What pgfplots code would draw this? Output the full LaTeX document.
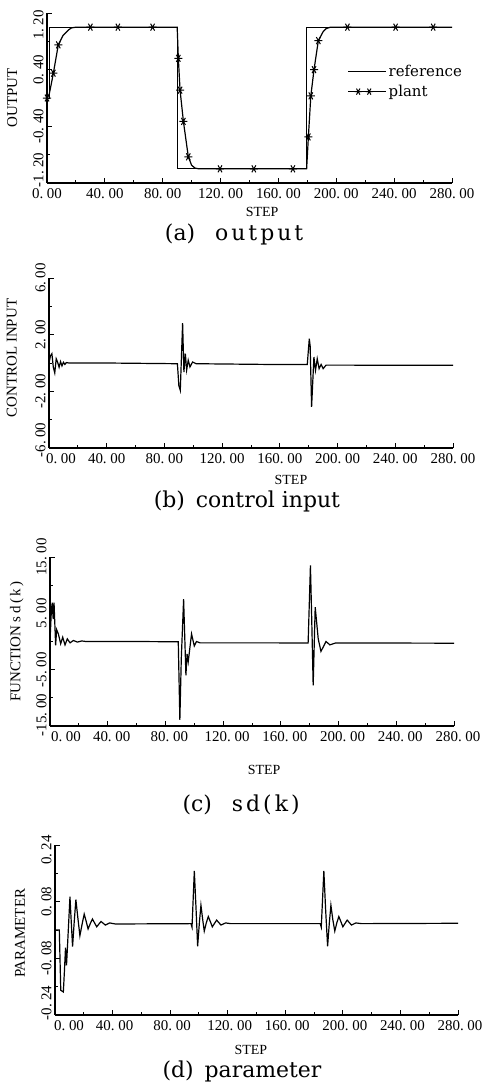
\documentclass[border=0pt]{standalone}
\usepackage{fontspec}
\setmainfont{Liberation Serif}
\newfontfamily\capfont{DejaVu Serif}
\usepackage{pgfplots}
\pgfplotsset{compat=1.18}

\pgfplotsset{
  panel/.style={
    scale only axis, width=404bp, height=170bp,
    xmin=0, xmax=280,
    axis x line*=bottom, axis y line*=left,
    axis line style={line width=1.2pt,-},
    tick align=inside, major tick length=5bp, minor tick length=3bp,
    every tick/.style={black, line width=1pt},
    xtick={0,40,...,280}, minor xtick={20,60,...,260},
    xticklabels={{\hspace*{24bp}0.\ 00},40.\ 00,80.\ 00,120.\ 00,160.\ 00,200.\ 00,240.\ 00,280.\ 00},
    tick label style={font=\fontsize{15}{15}\selectfont},
    xticklabel style={yshift=-2bp},
    yticklabel style={rotate=90, anchor=south},
    label style={font=\fontsize{15}{15}\selectfont},
    xlabel style={font=\fontsize{14}{14}\selectfont},
    xlabel={STEP},
    title style={font=\capfont\fontsize{22}{22}\selectfont, anchor=center},
    clip=false,
  },
  dataline/.style={black, line width=1.2pt, mark=none},
}

\begin{document}
\begin{tikzpicture}
\path[use as bounding box] (0bp,0bp) rectangle (483bp,-1089bp);

% (a) output
\begin{axis}[panel, at={(47bp,-183bp)}, anchor=south west, width=405bp,
  xticklabels={0.\ 00,40.\ 00,80.\ 00,120.\ 00,160.\ 00,200.\ 00,240.\ 00,280.\ 00},
  ymin=-1.2, ymax=1.2,
  ytick={-1.2,-0.4,0.4,1.2}, minor ytick={-0.8,0,0.8},
  yticklabels={{\hspace*{26bp}-1.\ 20},-0.\ 40,0.\ 40,{1.\ 20\hspace*{24bp}}},
  ylabel={OUTPUT},
  ylabel style={at={(axis description cs:-0.086,0.5)}, anchor=center},
  xlabel style={at={(axis description cs:0.531,-0.171)}, anchor=center},
  title={(a)\hspace{20bp}o\kern3bp u\kern3bp t\kern3bp p\kern3bp u\kern3bp t},
  title style={at={(axis description cs:0.462,-0.335)}},
  legend style={at={(axis description cs:0.742,0.705)}, anchor=north west,
    draw=none, fill=none, inner sep=0pt, row sep=3bp,
    font=\capfont\fontsize{15}{15}\selectfont},
  legend cell align=left,
  legend image code/.code={
    \draw[#1, mark=none] (0bp,0bp) -- (30bp,0bp);
    \draw[#1] plot[only marks] coordinates {(10bp,0bp) (21bp,0bp)};
    \path (30bp,0bp) -- (38bp,0bp);
  },
]
\addplot[black, line width=0.8pt, mark=none] coordinates {
  (0,0) (2,0) (2,1) (90,1) (90,-1) (179.5,-1) (179.5,1) (280,1)};
\addlegendentry{reference}
\addplot[black, line width=1.2pt, forget plot,
  mark=asterisk, mark size=4bp, mark options={rotate=90, line width=1pt},
  mark indices={1,4,5,10,11,12,14,15,16,17,21,22,23,25,26,27,28,32,33,34}]
  coordinates {
  (0,0) (1.5,0.05) (2.5,0.15) (4.4,0.35) (7.8,0.75) (11,0.88) (14.8,0.96)
  (17,0.99) (20,1.0) (30,1.0) (49,1.0) (73,1.0) (90,1.0) (90.8,0.56)
  (92,0.11) (94.3,-0.33) (97.7,-0.83) (100,-0.95) (102.4,-0.99) (105,-1.0)
  (119.6,-1.0) (143,-1.0) (170,-1.0) (179.5,-1.0) (180.7,-0.55) (182.4,0.03)
  (184.6,0.4) (187.6,0.81) (191,0.94) (193,0.98) (196,1.0) (207.7,1.0)
  (241,1.0) (267,1.0) (280,1.0)};
\addlegendimage{black, line width=1pt, mark=asterisk, mark size=3.5bp,
  mark options={rotate=90}}
\addlegendentry{plant}
\end{axis}

% (b) control input
\begin{axis}[panel, at={(49bp,-448bp)}, anchor=south west,
  ymin=-6, ymax=6,
  ytick={-6,-2,2,6}, minor ytick={-4,0,4},
  yticklabels={{\hspace*{16bp}-6.\ 00},-2.\ 00,2.\ 00,6.\ 00},
  ylabel={CONTROL INPUT},
  ylabel style={at={(axis description cs:-0.092,0.53)}, anchor=center},
  xlabel style={at={(axis description cs:0.599,-0.19)}, anchor=center},
  title={(b)\enspace control input},
  title style={at={(axis description cs:0.49,-0.35)}},
]
\addplot[dataline] coordinates {
  (0,0) (1,0.5) (2,0.66) (3,-0.3) (4,-0.7) (5,0.3) (6,0.05) (7,-0.3)
  (8,0.1) (9,-0.2) (10,0.05) (11,-0.1) (12,0.03) (14,0) (40,0)
  (89,-0.05) (90,-1.6) (91,-1.93) (92.6,2.82) (93.5,-0.64) (94.5,0.66)
  (95.4,-0.5) (96.5,0.2) (97.7,-0.28) (99.5,0.07) (102,-0.05) (150,-0.1)
  (179,-0.1) (180.4,1.72) (181,1.2) (182,-3.1) (183.6,0.42) (184.7,-0.52)
  (185.9,0.3) (187.2,-0.4) (188.6,-0.1) (190,-0.4) (192,-0.15) (200,-0.15)
  (280,-0.16)};
\end{axis}

% (c) sd(k)
\begin{axis}[panel, at={(50bp,-726bp)}, anchor=south west, height=169bp,
  xticklabel style={xshift=4bp},
  ymin=-15, ymax=15,
  ytick={-15,-5,5,15}, minor ytick={-10,0,10},
  yticklabels={{\hspace*{22bp}-15.\ 00},-5.\ 00,5.\ 00,15.\ 00},
  ylabel={FUNCTION s\,d\,(\,k\,)},
  ylabel style={at={(axis description cs:-0.082,0.5)}, anchor=center},
  xlabel style={at={(axis description cs:0.53,-0.26)}, anchor=center},
  title={(c)\hspace{20bp}s\kern3bp d\kern3bp(\kern3bp k\kern3bp)},
  title style={at={(axis description cs:0.473,-0.503)}},
]
\addplot[dataline] coordinates {
  (0,0) (1,5.8) (1.6,6.9) (2.2,4.0) (2.8,6.9) (3.9,-0.7) (4.6,2.1)
  (5.8,1.35) (7.4,-0.4) (8.8,0.76) (10.4,-0.6) (12,0.47) (13.9,-0.24)
  (16.2,0.18) (19,-0.1) (22,0.1) (25,0) (60,0) (88.9,-0.05) (90,-13.9)
  (91,-3) (92.6,7.5) (94.2,-6) (95,-2.2) (95.8,-3.6) (98.1,1.35)
  (100,-0.8) (101.5,0) (104,-0.24) (178.9,-0.25) (180.5,13.5) (181.3,5)
  (182.4,-7.8) (183.8,6.1) (185.9,0.47) (187.8,-1.76) (191.3,0)
  (194,-0.6) (198,-0.25) (280,-0.3)};
\end{axis}

% (d) parameter
\begin{axis}[panel, at={(55bp,-1015bp)}, anchor=south west, width=403bp,
  xticklabel style={xshift=2bp},
  ymin=-0.24, ymax=0.24,
  ytick={-0.24,-0.08,0.08,0.24}, minor ytick={-0.16,0,0.16},
  yticklabels={{\hspace*{24bp}-0.\ 24},-0.\ 08,0.\ 08,{0.\ 24\hspace*{10bp}}},
  ylabel={PARAMETER},
  ylabel style={at={(axis description cs:-0.087,0.48)}, anchor=center},
  xlabel style={at={(axis description cs:0.486,-0.206)}, anchor=center},
  title={(d)\enspace parameter},
  title style={at={(axis description cs:0.464,-0.365)}},
]
\addplot[dataline] coordinates {
  (0,0) (3,0) (4,-0.17) (5.8,-0.175) (6.5,-0.12) (7.3,-0.05) (8,-0.1)
  (9,-0.02) (10.4,0.094) (11.2,0.03) (12.2,-0.047) (13.3,0.02)
  (14.5,0.086) (16,0.03) (17.3,-0.016) (19,0.02) (20.3,0.045) (21.7,0.024)
  (23,0.003) (24.5,0.018) (26,0.031) (27.5,0.02) (29,0.009) (30.5,0.017)
  (32,0.024) (35,0.014) (38,0.02) (42,0.017) (94.5,0.018) (95.2,0.008)
  (96.8,0.167) (98,0.06) (99.1,-0.046) (100.3,0.02) (101.4,0.07)
  (102.6,0.03) (103.7,-0.003) (105.1,0.02) (106.5,0.038) (107.9,0.024)
  (109.3,0.009) (112.3,0.028) (115.3,0.014) (118.5,0.02) (122,0.018)
  (184.3,0.018) (185,0.008) (186.8,0.167) (188,0.06) (189.4,-0.046)
  (190.6,0.02) (191.7,0.07) (193,0.03) (194.4,-0.003) (195.8,0.02)
  (197.2,0.038) (198.6,0.024) (200,0.009) (203,0.028) (206,0.014)
  (209,0.02) (213,0.018) (280,0.019)};
\end{axis}
\end{tikzpicture}
\end{document}
